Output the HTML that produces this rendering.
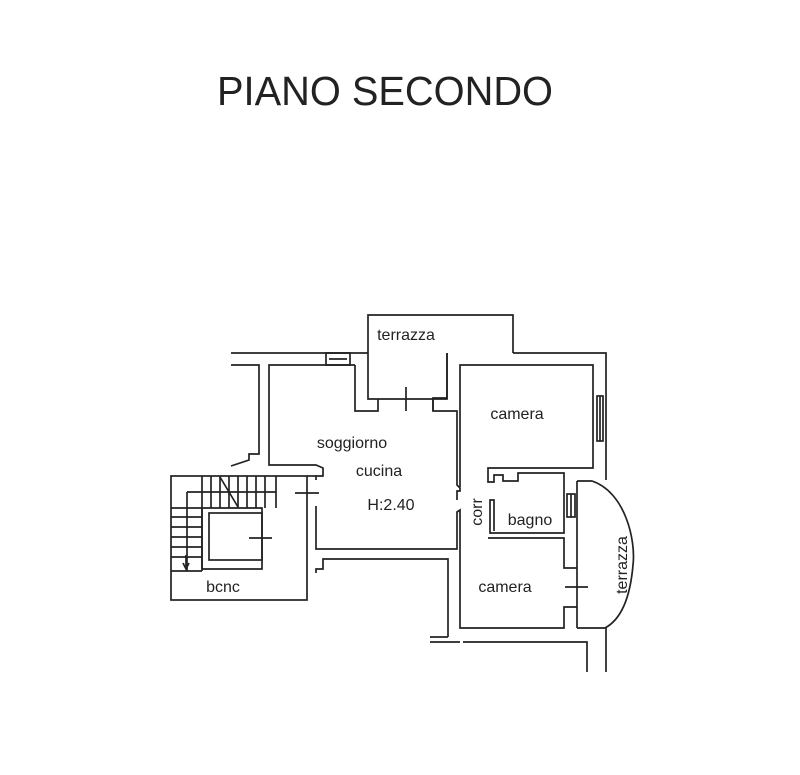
<!DOCTYPE html>
<html><head><meta charset="utf-8"><style>
html,body{margin:0;padding:0;background:#fff;}
svg{display:block;}
text{font-family:"Liberation Sans",Arial,sans-serif;fill:#222;}
</style></head><body>
<svg width="800" height="775" viewBox="0 0 800 775" xmlns="http://www.w3.org/2000/svg">
<text x="217" y="105" font-size="41" textLength="336" lengthAdjust="spacingAndGlyphs">PIANO SECONDO</text>
<g fill="none" stroke="#222" stroke-width="1.7">
<polyline points="231,353 368,353"/>
<rect x="326" y="353" width="24" height="12"/>
<line x1="329" y1="359" x2="347" y2="359"/>
<polyline points="368,353 368,315 513,315 513,353"/>
<polyline points="368,353 368,399 447,399 447,353"/>
<polyline points="513,353 606,353 606,480"/>
<polyline points="231,365 259,365 259,454 249,454 249,460 231,466"/>
<polyline points="355,365 269,365 269,465 316,465 323,468 323,476 316,476 316,480"/>
<polyline points="355,365 355,411 378,411 378,399"/>
<polyline points="433,399 433,411 457,411 457,485 460,488 460,491 457,491 457,500"/>
<line x1="406" y1="387" x2="406" y2="411"/>
<polyline points="447,353 447,398 433,398 433,411"/>
<polyline points="460,487 460,365 593,365 593,468 488,468 488,482 494,482 494,475 503,475 503,481 518,481 518,473 564,473 564,533 490,533 490,500 494,500 494,531"/>
<rect x="597" y="396" width="6" height="45"/>
<line x1="600" y1="396" x2="600" y2="441"/>
<rect x="567" y="494" width="8" height="23"/>
<line x1="571" y1="494" x2="571" y2="517"/>
<rect x="171" y="476" width="136" height="124"/>
<polyline points="307,476 316,476"/>
<line x1="295" y1="493" x2="319" y2="493"/>
<polyline points="316,506 316,549 457,549 457,512 460,510 460,628 564,628 564,607 577,607"/>
<polyline points="202,569 262,569 262,508 202,508 202,569"/>
<rect x="209" y="513" width="53" height="47"/>
<line x1="249" y1="538" x2="272" y2="538"/>
<line x1="202" y1="476" x2="202" y2="508"/>
<line x1="211" y1="476" x2="211" y2="508"/><line x1="220" y1="476" x2="220" y2="508"/><line x1="229" y1="476" x2="229" y2="508"/>
<line x1="238" y1="476" x2="238" y2="508"/><line x1="247" y1="476" x2="247" y2="508"/><line x1="256" y1="476" x2="256" y2="508"/>
<line x1="265" y1="476" x2="265" y2="508"/><line x1="276" y1="476" x2="276" y2="508"/>
<line x1="187" y1="492" x2="276" y2="492"/>
<line x1="187" y1="492" x2="187" y2="571"/>
<line x1="202" y1="508" x2="202" y2="571"/>
<line x1="171" y1="508" x2="202" y2="508"/><line x1="171" y1="517" x2="202" y2="517"/><line x1="171" y1="527" x2="202" y2="527"/>
<line x1="171" y1="537" x2="202" y2="537"/><line x1="171" y1="547" x2="202" y2="547"/><line x1="171" y1="557" x2="202" y2="557"/>
<line x1="171" y1="571" x2="202" y2="571"/>
<line x1="220" y1="477" x2="238" y2="507"/>
<line x1="186" y1="555" x2="186" y2="568"/>
<polyline points="183,563 186,569 189,563"/>
<polyline points="316,573 316,569 323,569 323,559 448,559 448,637"/>
<polyline points="488,538 564,538 564,568 577,568"/>
<line x1="565" y1="587" x2="588" y2="587"/>
<polyline points="577,481 577,628"/>
<path d="M577,481 L592,481 C625,492 636,540 633,565 C630,600 620,620 605,628 L577,628"/>
<polyline points="606,628 606,672"/>
<polyline points="430,642 460,642"/>
<polyline points="463,642 587,642 587,672"/>
<line x1="430" y1="637" x2="448" y2="637"/>
</g>
<g font-size="16">
<text x="406" y="340" text-anchor="middle">terrazza</text>
<text x="517" y="419" text-anchor="middle">camera</text>
<text x="352" y="448" text-anchor="middle">soggiorno</text>
<text x="379" y="476" text-anchor="middle">cucina</text>
<text x="391" y="510" text-anchor="middle">H:2.40</text>
<text x="530" y="525" text-anchor="middle">bagno</text>
<text x="505" y="592" text-anchor="middle">camera</text>
<text x="223" y="592" text-anchor="middle">bcnc</text>
<text transform="translate(482,512) rotate(-90)" text-anchor="middle">corr</text>
<text transform="translate(627,565) rotate(-90)" text-anchor="middle">terrazza</text>
</g>
</svg>
</body></html>
